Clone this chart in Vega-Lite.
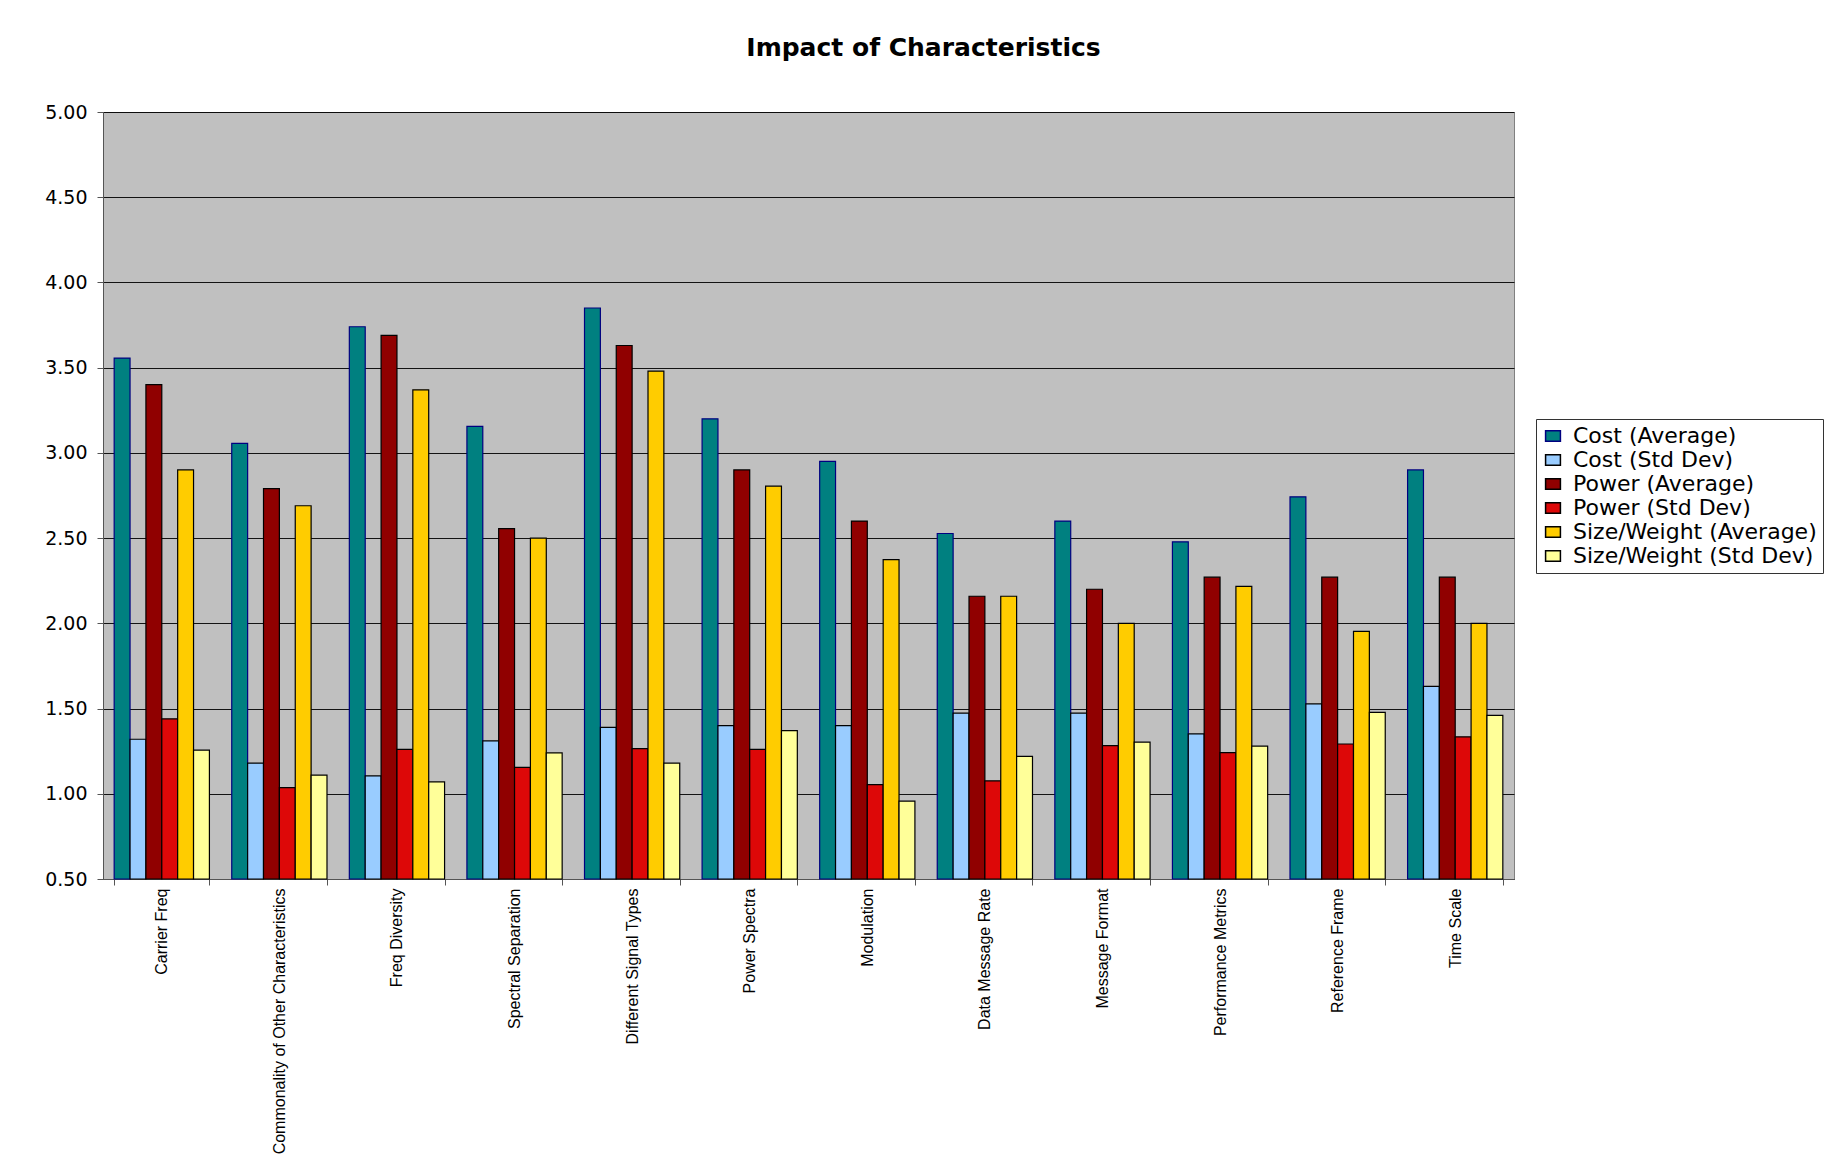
{
  "$schema": "https://vega.github.io/schema/vega-lite/v6.json",
  "width": 1411,
  "height": 767,
  "autosize": {"type": "none"},
  "padding": {"left": 103, "top": 112, "right": 313, "bottom": 280},
  "background": "white",
  "title": {"text": "Impact of Characteristics", "font": "DejaVu Sans", "fontSize": 25, "fontWeight": "bold", "color": "black", "anchor": "middle", "dx": 115, "offset": 42},
  "config": {"view": {"fill": "#C0C0C0", "stroke": "#808080", "strokeWidth": 1}},
  "data": {"values": [
    {"c": "Carrier Freq", "s": "Cost (Average)", "v": 3.556},
    {"c": "Carrier Freq", "s": "Cost (Std Dev)", "v": 1.32},
    {"c": "Carrier Freq", "s": "Power (Average)", "v": 3.40},
    {"c": "Carrier Freq", "s": "Power (Std Dev)", "v": 1.44},
    {"c": "Carrier Freq", "s": "Size/Weight (Average)", "v": 2.90},
    {"c": "Carrier Freq", "s": "Size/Weight (Std Dev)", "v": 1.256},
    {"c": "Commonality of Other Characteristics", "s": "Cost (Average)", "v": 3.056},
    {"c": "Commonality of Other Characteristics", "s": "Cost (Std Dev)", "v": 1.18},
    {"c": "Commonality of Other Characteristics", "s": "Power (Average)", "v": 2.79},
    {"c": "Commonality of Other Characteristics", "s": "Power (Std Dev)", "v": 1.036},
    {"c": "Commonality of Other Characteristics", "s": "Size/Weight (Average)", "v": 2.69},
    {"c": "Commonality of Other Characteristics", "s": "Size/Weight (Std Dev)", "v": 1.11},
    {"c": "Freq Diversity", "s": "Cost (Average)", "v": 3.74},
    {"c": "Freq Diversity", "s": "Cost (Std Dev)", "v": 1.105},
    {"c": "Freq Diversity", "s": "Power (Average)", "v": 3.69},
    {"c": "Freq Diversity", "s": "Power (Std Dev)", "v": 1.26},
    {"c": "Freq Diversity", "s": "Size/Weight (Average)", "v": 3.37},
    {"c": "Freq Diversity", "s": "Size/Weight (Std Dev)", "v": 1.07},
    {"c": "Spectral Separation", "s": "Cost (Average)", "v": 3.155},
    {"c": "Spectral Separation", "s": "Cost (Std Dev)", "v": 1.31},
    {"c": "Spectral Separation", "s": "Power (Average)", "v": 2.556},
    {"c": "Spectral Separation", "s": "Power (Std Dev)", "v": 1.155},
    {"c": "Spectral Separation", "s": "Size/Weight (Average)", "v": 2.50},
    {"c": "Spectral Separation", "s": "Size/Weight (Std Dev)", "v": 1.24},
    {"c": "Different Signal Types", "s": "Cost (Average)", "v": 3.85},
    {"c": "Different Signal Types", "s": "Cost (Std Dev)", "v": 1.39},
    {"c": "Different Signal Types", "s": "Power (Average)", "v": 3.63},
    {"c": "Different Signal Types", "s": "Power (Std Dev)", "v": 1.265},
    {"c": "Different Signal Types", "s": "Size/Weight (Average)", "v": 3.48},
    {"c": "Different Signal Types", "s": "Size/Weight (Std Dev)", "v": 1.18},
    {"c": "Power Spectra", "s": "Cost (Average)", "v": 3.20},
    {"c": "Power Spectra", "s": "Cost (Std Dev)", "v": 1.40},
    {"c": "Power Spectra", "s": "Power (Average)", "v": 2.90},
    {"c": "Power Spectra", "s": "Power (Std Dev)", "v": 1.26},
    {"c": "Power Spectra", "s": "Size/Weight (Average)", "v": 2.805},
    {"c": "Power Spectra", "s": "Size/Weight (Std Dev)", "v": 1.37},
    {"c": "Modulation", "s": "Cost (Average)", "v": 2.95},
    {"c": "Modulation", "s": "Cost (Std Dev)", "v": 1.40},
    {"c": "Modulation", "s": "Power (Average)", "v": 2.60},
    {"c": "Modulation", "s": "Power (Std Dev)", "v": 1.054},
    {"c": "Modulation", "s": "Size/Weight (Average)", "v": 2.374},
    {"c": "Modulation", "s": "Size/Weight (Std Dev)", "v": 0.957},
    {"c": "Data Message Rate", "s": "Cost (Average)", "v": 2.527},
    {"c": "Data Message Rate", "s": "Cost (Std Dev)", "v": 1.473},
    {"c": "Data Message Rate", "s": "Power (Average)", "v": 2.159},
    {"c": "Data Message Rate", "s": "Power (Std Dev)", "v": 1.076},
    {"c": "Data Message Rate", "s": "Size/Weight (Average)", "v": 2.159},
    {"c": "Data Message Rate", "s": "Size/Weight (Std Dev)", "v": 1.22},
    {"c": "Message Format", "s": "Cost (Average)", "v": 2.60},
    {"c": "Message Format", "s": "Cost (Std Dev)", "v": 1.473},
    {"c": "Message Format", "s": "Power (Average)", "v": 2.20},
    {"c": "Message Format", "s": "Power (Std Dev)", "v": 1.283},
    {"c": "Message Format", "s": "Size/Weight (Average)", "v": 2.00},
    {"c": "Message Format", "s": "Size/Weight (Std Dev)", "v": 1.303},
    {"c": "Performance Metrics", "s": "Cost (Average)", "v": 2.478},
    {"c": "Performance Metrics", "s": "Cost (Std Dev)", "v": 1.352},
    {"c": "Performance Metrics", "s": "Power (Average)", "v": 2.271},
    {"c": "Performance Metrics", "s": "Power (Std Dev)", "v": 1.242},
    {"c": "Performance Metrics", "s": "Size/Weight (Average)", "v": 2.217},
    {"c": "Performance Metrics", "s": "Size/Weight (Std Dev)", "v": 1.28},
    {"c": "Reference Frame", "s": "Cost (Average)", "v": 2.742},
    {"c": "Reference Frame", "s": "Cost (Std Dev)", "v": 1.527},
    {"c": "Reference Frame", "s": "Power (Average)", "v": 2.271},
    {"c": "Reference Frame", "s": "Power (Std Dev)", "v": 1.292},
    {"c": "Reference Frame", "s": "Size/Weight (Average)", "v": 1.953},
    {"c": "Reference Frame", "s": "Size/Weight (Std Dev)", "v": 1.478},
    {"c": "Time Scale", "s": "Cost (Average)", "v": 2.90},
    {"c": "Time Scale", "s": "Cost (Std Dev)", "v": 1.63},
    {"c": "Time Scale", "s": "Power (Average)", "v": 2.271},
    {"c": "Time Scale", "s": "Power (Std Dev)", "v": 1.334},
    {"c": "Time Scale", "s": "Size/Weight (Average)", "v": 2.00},
    {"c": "Time Scale", "s": "Size/Weight (Std Dev)", "v": 1.46}
  ]},
  "mark": {"type": "bar", "strokeWidth": 1.2},
  "encoding": {
    "x": {
      "field": "c", "type": "nominal", "sort": null,
      "scale": {"paddingInner": 0.19, "paddingOuter": 0.095},
      "axis": {"title": null, "labelAngle": -90, "labelFont": "Liberation Sans", "labelFontSize": 16, "labelColor": "black", "labelLimit": 400, "labelPadding": 3, "tickBand": "extent", "tickSize": 6, "tickColor": "#555555", "domainColor": "#555555", "grid": false}
    },
    "xOffset": {
      "field": "s", "type": "nominal",
      "sort": ["Cost (Average)", "Cost (Std Dev)", "Power (Average)", "Power (Std Dev)", "Size/Weight (Average)", "Size/Weight (Std Dev)"],
      "scale": {"paddingInner": 0, "paddingOuter": 0}
    },
    "y": {
      "field": "v", "type": "quantitative",
      "scale": {"domain": [0.5, 5], "zero": false, "nice": false},
      "axis": {"title": null, "values": [0.5, 1, 1.5, 2, 2.5, 3, 3.5, 4, 4.5, 5], "format": ".2f", "grid": true, "gridColor": "#000000", "gridWidth": 1, "gridOpacity": 0.9, "domainColor": "#555555", "tickColor": "#555555", "tickSize": 6, "labelFont": "DejaVu Sans", "labelFontSize": 19, "labelColor": "black", "labelPadding": 10}
    },
    "y2": {"datum": 0.5},
    "color": {
      "field": "s", "type": "nominal",
      "scale": {
        "domain": ["Cost (Average)", "Cost (Std Dev)", "Power (Average)", "Power (Std Dev)", "Size/Weight (Average)", "Size/Weight (Std Dev)"],
        "range": ["#008080", "#99CCFF", "#900000", "#DD0808", "#FFCC00", "#FFFF99"]
      },
      "legend": {"title": null, "orient": "none", "legendX": 1433, "legendY": 307, "strokeColor": "#333333", "fillColor": "white", "padding": 6, "labelFont": "DejaVu Sans", "labelFontSize": 22, "labelColor": "black", "labelLimit": 400, "labelOffset": 9, "symbolType": "M-1,-0.7H1V0.7H-1Z", "symbolSize": 220, "symbolStrokeWidth": 1.5, "rowPadding": 2}
    },
    "stroke": {
      "field": "s", "type": "nominal",
      "scale": {
        "domain": ["Cost (Average)", "Cost (Std Dev)", "Power (Average)", "Power (Std Dev)", "Size/Weight (Average)", "Size/Weight (Std Dev)"],
        "range": ["#000080", "#000000", "#000000", "#000000", "#000000", "#000000"]
      },
      "legend": {"title": null, "orient": "none", "legendX": 1433, "legendY": 307, "strokeColor": "#333333", "fillColor": "white", "padding": 6, "labelFont": "DejaVu Sans", "labelFontSize": 22, "labelColor": "black", "labelLimit": 400, "labelOffset": 9, "symbolType": "M-1,-0.7H1V0.7H-1Z", "symbolSize": 220, "symbolStrokeWidth": 1.5, "rowPadding": 2}
    }
  }
}
